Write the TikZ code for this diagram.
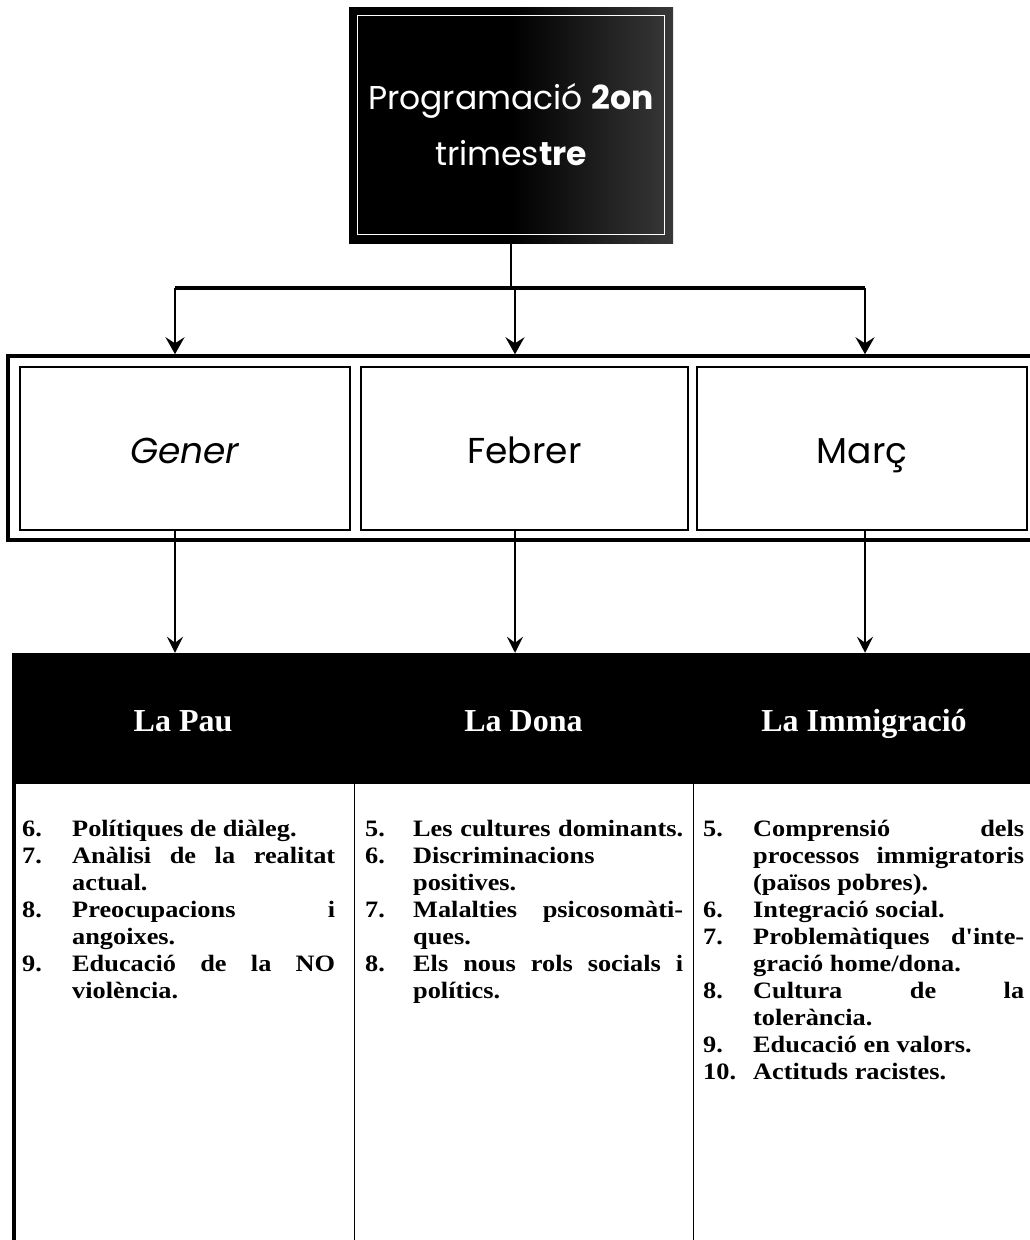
\documentclass[tikz,border=0pt]{standalone}
\usepackage{fontspec}
\setmainfont{Liberation Serif}
\newfontfamily\handfont{Poppins}
\newfontfamily\listfont{Liberation Serif}[FakeStretch=1.12]
\usetikzlibrary{arrows.meta}
\newcommand{\jl}[1]{\makebox[\linewidth][s]{#1}}

\tikzset{
    titlebox/.style={minimum width=324, minimum height=236, inner sep=0pt, align=center, text=white,
        left color=black, right color=black!78!white, middle color=black,
        font=\handfont\fontsize{33}{56}\selectfont},
    frame/.style={draw, line width=3.5pt, minimum width=1032, minimum height=184},
    monthbox/.style={draw, line width=2pt, minimum height=163, text height=30pt, text depth=0pt,
        font=\handfont\fontsize{36}{40}\selectfont},
    band/.style={fill=black, draw=black, line width=0.5pt, text=white, minimum height=130,
        text height=26pt, text depth=0pt, font=\bfseries\fontsize{32}{36}\selectfont},
    listcol/.style={inner sep=0pt, anchor=north west, font=\listfont\bfseries\fontsize{23.5}{27}\selectfont},
    colline/.style={line width=1.5pt},
    arr/.style={-{Stealth[length=17pt, width=19pt, inset=6pt]}, line width=2pt},
    arrlow/.style={-{Stealth[length=16pt, width=16pt, inset=6pt]}, line width=1.5pt}
}

\begin{document}
\begin{tikzpicture}[x=1pt, y=-1pt]
            \useasboundingbox (0,0) rectangle (1029,1240);
            \coordinate (bar) at (513,288);
            \coordinate (bot) at (0,1250);
            \coordinate (c1) at (175,0);
            \coordinate (c2) at (515,0);
            \coordinate (c3) at (865,0);

            \node[titlebox] (title) at (511,125) {Programació \textbf{2on}\\trimes\textbf{tre}};
            \draw[white, line width=0.8pt] ([shift={(9pt,9pt)}]title.south west) rectangle ([shift={(-9pt,-9pt)}]title.north east);

            \node[frame] (frame) at (524,448) {};
            \foreach \nm/\x/\w/\txt in {gener/185/330/\textit{Gener}, febrer/524.5/327/Febrer, marc/862/330/Març}{
                \node[monthbox, minimum width=\w] (\nm) at (\x,448.5) {\txt};
            }

            \draw[line width=2.5pt] (title.south) -- (title.south |- bar);
            \draw[line width=4pt] (c1 |- bar) -- (c3 |- bar);
            \foreach \c in {c1,c2,c3}
                \draw[arr] (\c |- bar) -- (frame.north -| \c);

            \node[band, minimum width=342] (pau) at (183,718) {La Pau};
            \node[band, minimum width=339] (dona) at (523.5,718) {La Dona};
            \node[band, minimum width=342] (immig) at (864,718) {La Immigració};

            \foreach \m/\h/\c in {gener/pau/c1, febrer/dona/c2, marc/immig/c3}
                \draw[arrlow] (\m.south -| \c) -- (\h.north -| \c);

            \coordinate (lb) at ([xshift=2.25pt]pau.south west);
            \draw[line width=4.5pt] (lb) -- (lb |- bot);
            \draw[colline] (pau.south east) -- (pau.south east |- bot);
            \draw[colline] (dona.south east) -- (dona.south east |- bot);

            \node[listcol] (list1) at (22,817) {%
                \begin{tabular}{@{}p{50pt}@{}p{263pt}@{}}
                    6. & Polítiques de diàleg.\\
                    7. & \jl{Anàlisi de la realitat}\\
                       & actual.\\
                    8. & \jl{Preocupacions i}\\
                       & angoixes.\\
                    9. & \jl{Educació de la NO}\\
                       & violència.\\
                \end{tabular}};
            \node[listcol] (list2) at (365,817) {%
                \begin{tabular}{@{}p{48pt}@{}p{270pt}@{}}
                    5. & \jl{Les cultures dominants.}\\
                    6. & Discriminacions\\
                       & positives.\\
                    7. & \jl{Malalties psicosomàti-}\\
                       & ques.\\
                    8. & \jl{Els nous rols socials i}\\
                       & polítics.\\
                \end{tabular}};
            \node[listcol] (list3) at (703,817) {%
                \begin{tabular}{@{}p{50pt}@{}p{271pt}@{}}
                    5. & \jl{Comprensió dels}\\
                       & \jl{processos immigratoris}\\
                       & (països pobres).\\
                    6. & Integració social.\\
                    7. & \jl{Problemàtiques d'inte-}\\
                       & gració home/dona.\\
                    8. & \jl{Cultura de la}\\
                       & tolerància.\\
                    9. & Educació en valors.\\
                    10. & Actituds racistes.\\
                \end{tabular}};
        \end{tikzpicture}
\end{document}
